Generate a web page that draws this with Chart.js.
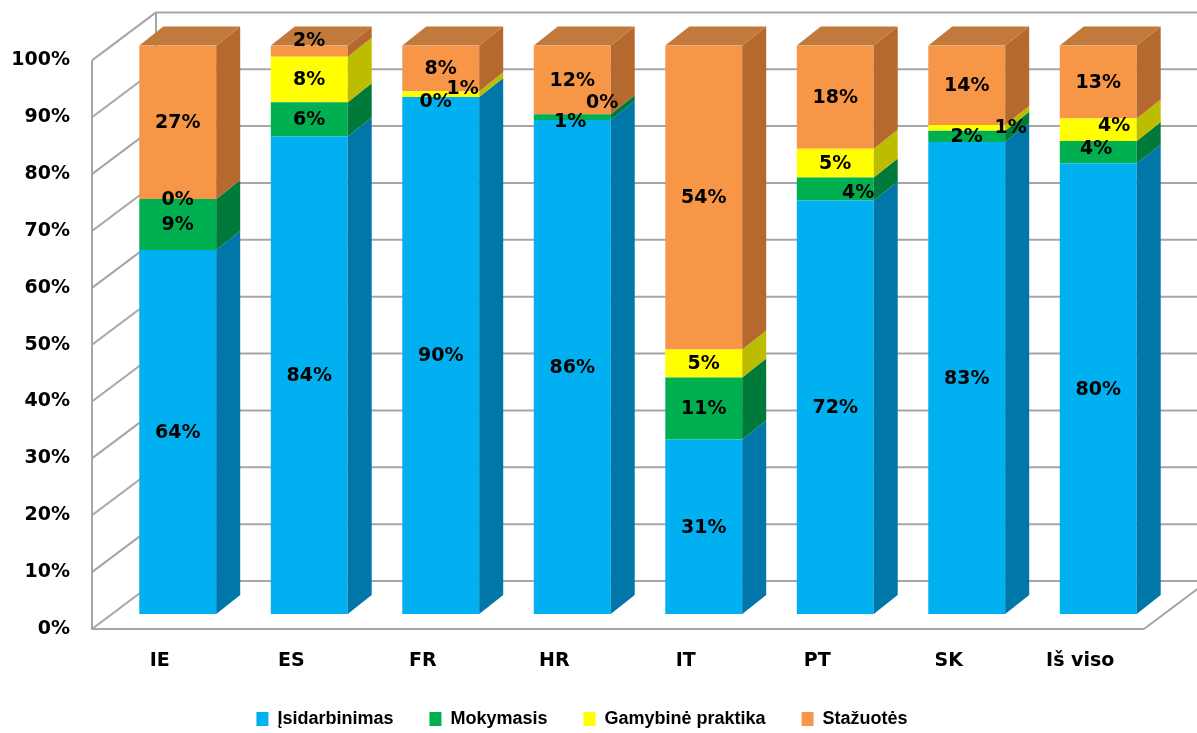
<!DOCTYPE html>
<html><head><meta charset="utf-8">
<script src="https://cdn.jsdelivr.net/npm/chart.js@4/dist/chart.umd.min.js"></script>
<style>html,body{margin:0;padding:0;background:#fff;overflow:hidden}</style>
</head><body>
<canvas id="c" width="1197" height="733"></canvas>
<script>
// ---- data ----
const categories = ['IE', 'ES', 'FR', 'HR', 'IT', 'PT', 'SK', 'Iš viso'];
const seriesNames = ['Įsidarbinimas', 'Mokymasis', 'Gamybinė praktika', 'Stažuotės'];
const isidarbinimas = [64, 84, 90, 86, 31, 72, 83, 80];
const mokymasis     = [9, 6, 0, 1, 11, 4, 2, 4];
const gamybine      = [0, 8, 1, 0, 5, 5, 1, 4];
const stazuotes     = [27, 2, 8, 12, 54, 18, 14, 13];
const yTicks = [0, 10, 20, 30, 40, 50, 60, 70, 80, 90, 100];

// ---- styling ----
const FONT = {family: "'DejaVu Sans', sans-serif", size: 19, weight: 'bold'};
const LEGEND_FONT = {family: "'Liberation Sans', Arial, sans-serif", size: 18, weight: 'bold'};
const frontColors = ['#00B0F0', '#00B050', '#FFFF00', '#F79646'];
const sideColors  = ['#0077A8', '#007A3A', '#BDBD00', '#B5692F'];
const topColor = '#C27A3C';
const WALL = {fx: -20, fy: 15, bx: 44, by: -33};
const BAR = {dx: 24, dy: -19};
const labelNudge = {'3,1': [0, -11], '1,2': [-5, 4], '2,2': [22, -6], '1,3': [-2, 4], '2,3': [30, -12],
  '1,5': [23, 3], '2,6': [44, -1], '1,7': [-2, -4], '2,7': [16, -5]};

const raw = [isidarbinimas, mokymasis, gamybine, stazuotes];
const totals = categories.map((_, i) => raw.reduce((s, a) => s + a[i], 0));
const shares = raw.map(a => a.map((v, i) => v / totals[i] * 100));

function line(ctx, x1, y1, x2, y2) { ctx.beginPath(); ctx.moveTo(x1, y1); ctx.lineTo(x2, y2); ctx.stroke(); }
function poly(ctx, pts, color) {
  ctx.beginPath(); ctx.moveTo(pts[0][0], pts[0][1]);
  for (let k = 1; k < pts.length; k++) ctx.lineTo(pts[k][0], pts[k][1]);
  ctx.closePath(); ctx.fillStyle = color; ctx.fill();
}

const box3d = {
  id: 'box3d',
  beforeDatasetsDraw(chart) {
    const {ctx, chartArea: a, scales: {y}} = chart;
    ctx.save();
    ctx.strokeStyle = '#A6A6A6'; ctx.lineWidth = 2;
    const fl = a.left + WALL.fx, bl = a.left + WALL.bx, br = a.right + WALL.bx + 40;
    yTicks.forEach(t => {
      const p = y.getPixelForValue(t);
      line(ctx, fl, p + WALL.fy, bl, p + WALL.by);
      line(ctx, bl, p + WALL.by, br, p + WALL.by);
    });
    const p0 = y.getPixelForValue(0), p1 = y.getPixelForValue(100);
    line(ctx, fl, p0 + WALL.fy, fl, p1 + WALL.fy);
    line(ctx, bl, p0 + WALL.by, bl, p1 + WALL.by);
    const fr = a.right + WALL.fx;
    line(ctx, fl - 1, p0 + WALL.fy, fr, p0 + WALL.fy);
    line(ctx, fr, p0 + WALL.fy, a.right + WALL.bx, p0 + WALL.by);
    ctx.restore();
  },
  afterDatasetsDraw(chart) {
    const {ctx} = chart;
    ctx.save();
    const n = chart.data.datasets.length;
    for (let d = 0; d < n; d++) {
      const meta = chart.getDatasetMeta(d);
      meta.data.forEach((el, i) => {
        const {x, y, base, width} = el.getProps(['x', 'y', 'base', 'width'], true);
        const l = x - width / 2, r = x + width / 2;
        const top = Math.min(y, base), bot = Math.max(y, base);
        if (bot - top > 0.01) {
          poly(ctx, [[r, top], [r + BAR.dx, top + BAR.dy], [r + BAR.dx, bot + BAR.dy], [r, bot]], sideColors[d]);
        }
        if (d === n - 1) {
          poly(ctx, [[l, top], [l + BAR.dx, top + BAR.dy], [r + BAR.dx, top + BAR.dy], [r, top]], topColor);
        }
      });
    }
    // data labels
    ctx.font = `${FONT.weight} ${FONT.size}px ${FONT.family}`;
    ctx.fillStyle = '#000'; ctx.textAlign = 'center'; ctx.textBaseline = 'middle';
    for (let d = 0; d < n; d++) {
      const meta = chart.getDatasetMeta(d);
      meta.data.forEach((el, i) => {
        const {x, y, base} = el.getProps(['x', 'y', 'base'], true);
        const nd = labelNudge[d + ',' + i] || [0, 0];
        ctx.fillText(raw[d][i] + '%', x + nd[0], (y + base) / 2 + nd[1] + 1);
      });
    }
    ctx.restore();
  }
};

new Chart(document.getElementById('c'), {
  type: 'bar',
  data: {
    labels: categories,
    datasets: seriesNames.map((name, d) => ({
      label: name, data: shares[d], backgroundColor: frontColors[d], borderWidth: 0,
      barPercentage: 0.585, categoryPercentage: 1
    }))
  },
  options: {
    responsive: false, animation: false, devicePixelRatio: 1,
    layout: {padding: {top: 43, right: 33, left: 0, bottom: -5}},
    scales: {
      x: {
        stacked: true, grid: {display: false}, border: {display: false},
        ticks: {font: FONT, color: '#000', padding: 28, labelOffset: -18, maxRotation: 0},
        afterFit: s => { s.height = 60; }
      },
      y: {
        stacked: true, min: 0, max: 100, grid: {display: false}, border: {display: false},
        ticks: {stepSize: 10, font: FONT, color: '#000', padding: 34, labelOffset: 15, callback: v => v + '%'},
        afterFit: s => { s.width = 112; }
      }
    },
    plugins: {
      legend: {position: 'bottom', labels: {boxWidth: 12, boxHeight: 14, padding: 36, font: LEGEND_FONT, color: '#000'}},
      tooltip: {enabled: false}
    }
  },
  plugins: [box3d]
});
</script>
</body></html>
